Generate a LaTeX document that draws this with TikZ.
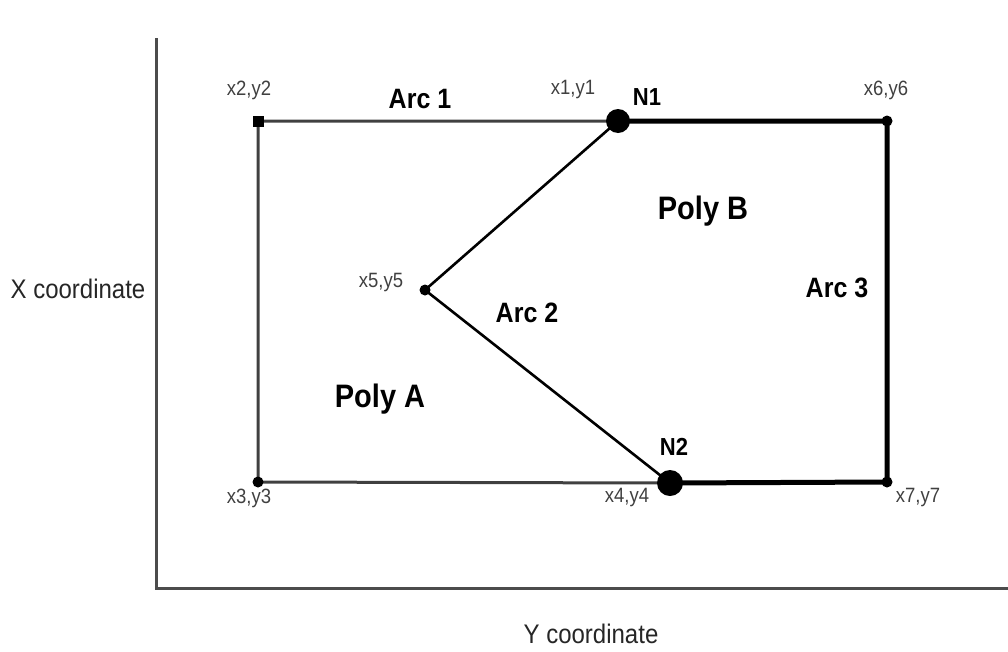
\documentclass[tikz,border=0pt]{standalone}
\usepackage{fontspec}
\setmainfont{Liberation Sans}
\newcommand\talltxt[1]{\scalebox{1}[1.12]{#1}}
\begin{document}
\begin{tikzpicture}[x=1pt,y=-1pt,
  thinline/.style={draw=black!75,line width=3pt},
  midline/.style={draw=black,line width=2.6pt},
  thickline/.style={draw=black,line width=5pt},
  small/.style={font=\fontsize{18.5}{18.5}\selectfont,text=black!75},
  lbl/.style={font=\bfseries\fontsize{25}{25}\selectfont},
  nlbl/.style={font=\bfseries\fontsize{22}{22}\selectfont},
  big/.style={font=\bfseries\fontsize{29}{29}\selectfont},
  axlbl/.style={font=\fontsize{24}{24}\selectfont,text=black!85},
  pt/.style={circle,fill=black,inner sep=0pt,minimum size=11pt},
  bigpt/.style={circle,fill=black,inner sep=0pt,minimum size=25pt}]
\useasboundingbox (0,0) rectangle (1008,651);
% axes
\coordinate (ytop) at (156,38);
\coordinate (orig) at (156,588);
\coordinate (xend) at (1008,588);
\draw[draw=black!70,line width=3pt] (ytop) -- (orig) -- (xend);
% points
\coordinate (p2) at (258,121);
\coordinate (p1) at (618,121);
\coordinate (p6) at (887,121);
\coordinate (p5) at (425,290);
\coordinate (p3) at (258,482);
\coordinate (p4) at (670,483);
\coordinate (p7) at (887,482);
% lines
\draw[thinline] (p1) -- (p2) -- (p3) -- (p4);
\draw[midline] (p1) -- (p5) -- (p4);
\draw[thickline,line join=round] (p1) -- (p6) -- (p7) -- (p4);
% dots
\node[fill=black,inner sep=0pt,minimum size=11pt] (d2) at (p2) {};
\node[pt] (d3) at (p3) {};
\node[pt] (d5) at (p5) {};
\node[pt] (d6) at (p6) {};
\node[pt] (d7) at (p7) {};
\node[bigpt,minimum size=24pt] (n1) at (p1) {};
\node[bigpt,minimum size=26pt] (n2) at (p4) {};
% labels
\node[small] (l2) at (249,90) {\talltxt{x2,y2}};
\node[small] (l1) at (573,90) {\talltxt{x1,y1}};
\node[small] (l6) at (886,90) {\talltxt{x6,y6}};
\node[small] (l5) at (381,283) {\talltxt{x5,y5}};
\node[small] (l3) at (249,498) {\talltxt{x3,y3}};
\node[small] (l4) at (627,498) {\talltxt{x4,y4}};
\node[small] (l7) at (918,498) {\talltxt{x7,y7}};
\node[lbl] (a1) at (420,99) {\talltxt{Arc 1}};
\node[lbl] (a2) at (527,313) {\talltxt{Arc 2}};
\node[lbl] (a3) at (837,288) {\talltxt{Arc 3}};
\node[nlbl] (t1) at (647,97) {\talltxt{N1}};
\node[nlbl] (t2) at (674,447) {\talltxt{N2}};
\node[big] (pb) at (703,211) {\talltxt{Poly B}};
\node[big] (pa) at (380,399) {\talltxt{Poly A}};
\node[axlbl] (xc) at (78,289) {\talltxt{X coordinate}};
\node[axlbl] (yc) at (591,634) {\talltxt{Y coordinate}};
\end{tikzpicture}
\end{document}
